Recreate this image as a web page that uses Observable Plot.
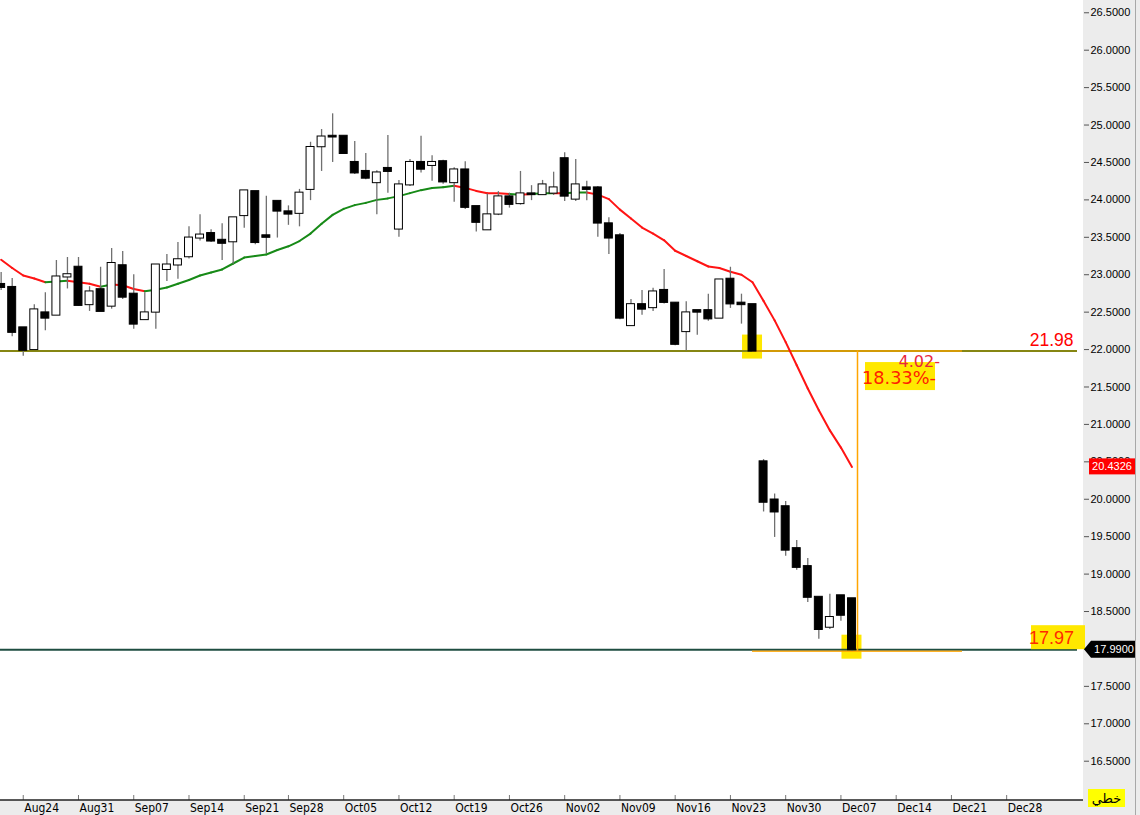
<!DOCTYPE html>
<html>
<head>
<meta charset="utf-8">
<script src="https://cdn.jsdelivr.net/npm/d3@7"></script>
<script src="https://cdn.jsdelivr.net/npm/@observablehq/plot@0.6"></script>
<style>
  html, body { margin: 0; padding: 0; background: #ffffff; }
  #wrap { position: relative; width: 1140px; height: 815px; background: #ececec; overflow: hidden; }
  #white { position: absolute; left: 0; top: 0; width: 1083px; height: 800px; background: #ffffff; }
  #chart { position: absolute; left: 0; top: 0; }
</style>
</head>
<body>
<div id="wrap"><div id="white"></div><div id="chart"></div></div>
<script>
// ---- Data ----
const opens  = [22.87,22.83,22.29,22.00,22.49,22.46,22.97,23.10,22.60,22.80,22.58,23.12,22.74,22.40,22.50,23.07,23.13,23.24,23.49,23.55,
                23.46,23.44,23.79,24.11,23.52,23.98,23.84,23.82,24.14,24.71,24.85,24.85,24.50,24.38,24.23,24.42,23.61,24.20,24.50,24.46,
                24.51,24.23,24.40,23.91,23.60,23.81,24.04,23.95,24.08,24.07,24.09,24.55,24.01,24.16,24.16,23.68,23.52,22.32,22.60,22.56,
                22.79,22.62,22.24,22.52,22.52,22.42,22.94,22.62,22.60,20.50,19.99,19.90,19.34,19.10,18.69,18.29,18.71,18.67];
const highs  = [23.03,22.95,22.29,22.60,22.76,23.19,23.23,23.23,22.84,23.10,23.35,23.31,23.00,22.76,23.13,23.27,23.43,23.64,23.80,23.60,
                23.68,23.76,24.12,24.11,24.05,23.98,23.92,24.14,24.77,24.94,25.15,24.85,24.78,24.62,24.39,24.86,24.26,24.54,24.85,24.59,
                24.53,24.43,24.51,23.91,24.08,24.11,24.09,24.38,24.19,24.26,24.37,24.63,24.54,24.25,24.18,23.76,23.55,22.67,22.79,22.82,
                23.07,22.63,22.64,22.52,22.74,22.93,23.10,22.74,22.60,20.53,20.07,19.97,19.45,19.21,18.69,18.73,18.71,18.67];
const lows   = [22.79,22.17,21.91,22.00,22.25,22.46,22.81,22.58,22.51,22.51,22.54,22.67,22.27,22.40,22.27,22.91,22.94,23.21,23.45,23.43,
                23.19,23.14,23.62,23.40,23.28,23.49,23.66,23.64,23.99,24.38,24.50,24.62,24.34,24.27,23.80,24.09,23.50,24.18,24.36,24.25,
                24.21,23.97,23.87,23.57,23.60,23.79,23.89,23.93,23.99,24.07,24.06,23.98,23.98,23.99,23.50,23.27,22.40,22.32,22.46,22.51,
                22.61,22.05,21.98,22.19,22.38,22.42,22.55,22.34,21.98,19.83,19.49,19.24,19.05,18.62,18.13,18.26,18.37,17.97];
const closes = [22.83,22.23,21.99,22.53,22.42,22.97,23.00,22.59,22.77,22.51,23.15,22.70,22.34,22.49,23.13,23.13,23.20,23.49,23.53,23.45,
                23.42,23.76,24.12,23.43,23.50,23.85,23.81,24.09,24.70,24.84,24.84,24.62,24.36,24.29,24.36,24.38,24.20,24.50,24.41,24.50,
                24.24,24.40,23.90,23.70,23.80,24.04,23.94,24.08,24.07,24.20,24.16,24.05,24.20,24.14,23.69,23.49,22.42,22.60,22.54,22.77,
                22.63,22.07,22.49,22.50,22.41,22.93,22.61,22.60,21.98,19.96,19.83,19.32,19.09,18.69,18.26,18.42,18.45,17.99];
const maValues = [23.20,23.09,22.99,22.95,22.90,22.91,22.92,22.90,22.88,22.84,22.87,22.86,22.81,22.78,22.80,22.83,22.88,22.93,22.99,23.03,
                23.07,23.15,23.23,23.25,23.27,23.33,23.38,23.45,23.55,23.68,23.80,23.88,23.93,23.96,24.00,24.02,24.05,24.09,24.13,24.16,
                24.17,24.19,24.16,24.12,24.09,24.09,24.08,24.07,24.08,24.09,24.09,24.09,24.10,24.10,24.07,24.01,23.87,23.75,23.63,23.55,
                23.46,23.32,23.25,23.18,23.11,23.09,23.04,23.00,22.90,22.65,22.39,22.10,21.79,21.48,21.19,20.92,20.69,20.4326];

const tickLabels = ["Aug24","Aug31","Sep07","Sep14","Sep21","Sep28","Oct05","Oct12","Oct19","Oct26",
                    "Nov02","Nov09","Nov16","Nov23","Nov30","Dec07","Dec14","Dec21","Dec28"];
const tickIndex  = [2,7,12,17,22,26,31,36,41,46,51,56,61,66,71,76,81,86,91];
const yTicks = [16.5,17,17.5,18,18.5,19,19.5,20,20.5,21,21.5,22,22.5,23,23.5,24,24.5,25,25.5,26,26.5];

const levels = [21.98, 17.97];          // support levels (top, bottom)
const levelCandles = [68, 77];          // candles highlighted in yellow
const lastClose = 17.99;
const lastMA = 20.4326;
const measureSpan = [68, 87];           // measuring tool start / end (candle index)
const measureTexts = ["4.02-", "18.33%-"];
const modeLabel = "خطي";

// ---- Build tables ----
const candles = opens.map((o, i) => ({i, o, h: highs[i], l: lows[i], c: closes[i], ma: maValues[i]}));
const maSegs = candles.slice(1).map((d, k) => ({i1: k, i2: d.i, m1: maValues[k], m2: d.ma, up: d.c > d.ma}));
const highlights = levelCandles.map((i, k) => ({i, v: levels[k]}));
const measureMid = (measureSpan[0] + measureSpan[1]) / 2;

const RED = "#ff1414", GREEN = "#178a17";

const plot = Plot.plot({
  width: 1140, height: 815,
  marginLeft: 0, marginRight: 63, marginTop: 0, marginBottom: 15,
  x: {type: "linear", domain: [-0.0588, 97.41], axis: null},
  y: {domain: [15.975, 26.664], axis: null},
  color: {type: "identity"},
  style: {background: "transparent", overflow: "visible", fontFamily: "'Liberation Sans', Arial, sans-serif", color: "#000"},
  marks: [
    // yellow highlight boxes
    Plot.rect(highlights, {x1: "i", x2: "i", y1: "v", y2: "v", fill: "#ffe800",
      insetLeft: -10, insetRight: -10, insetTop: -16, insetBottom: -8}),
    // horizontal level lines
    Plot.ruleY([levels[0]], {stroke: "#868613", strokeWidth: 2}),
    Plot.ruleY([lastClose], {stroke: "#1e4d40", strokeWidth: 2}),
    // measuring tool
    Plot.ruleY(levels, {y: d => d, x1: measureSpan[0], x2: measureSpan[1], stroke: "#ffa500", strokeWidth: 1.5, strokeOpacity: 0.85}),
    Plot.ruleX([measureMid], {x: d => d, y1: levels[1], y2: levels[0], stroke: "#ffa500", strokeWidth: 1.5}),
    // moving average
    Plot.link(maSegs, {x1: "i1", y1: "m1", x2: "i2", y2: "m2", stroke: d => d.up ? GREEN : RED,
      strokeWidth: 2, strokeLinecap: "round"}),
    // candles
    Plot.ruleX(candles, {x: "i", y1: "l", y2: "h", stroke: "#707070", strokeWidth: 1.3}),
    Plot.rect(candles, {x1: d => d.i - 0.36, x2: d => d.i + 0.36, y1: "o", y2: "c",
      fill: d => d.c > d.o ? "#ffffff" : "#000000", stroke: "#000000", strokeWidth: 1,
      insetTop: -0.5, insetBottom: -0.5}),
    // level label
    Plot.text([levels[0]], {y: d => d, text: d => d.toFixed(2), frameAnchor: "right", textAnchor: "end",
      dx: -4, dy: -11, fill: "#ff0000", fontSize: 17.5}),
    // x axis ticks (upward) and labels
    Plot.axisX({ticks: tickIndex, tickSize: 5, dy: -5, tickFormat: () => "", stroke: "#777"}),
    Plot.axisX({ticks: tickIndex, tickSize: 0, tickPadding: 3, textAnchor: "start", dx: 1,
      tickFormat: d => tickLabels[tickIndex.indexOf(d)],
      fontSize: 12, fontFamily: "'Liberation Sans Narrow', 'DejaVu Sans Condensed', sans-serif", fill: "#000"}),
    // y axis on the right
    Plot.axisY({anchor: "right", ticks: yTicks, tickFormat: d => d.toFixed(4), tickSize: 5, tickPadding: 2,
      dx: 6, fontSize: 11, stroke: "#555", fill: "#000"})
  ]
});

document.getElementById("chart").appendChild(plot);

// ---- Overlays positioned through the plot's own scales ----
const sx = plot.scale("x"), sy = plot.scale("y");
const svg = d3.select(plot);
const g = svg.append("g");

// x axis base line
g.append("line").attr("x1", 0).attr("x2", 1083).attr("y1", 800).attr("y2", 800)
  .attr("stroke", "#222").attr("stroke-width", 1.5);
// right border line
g.append("line").attr("x1", 1135.5).attr("x2", 1135.5).attr("y1", 0).attr("y2", 815)
  .attr("stroke", "#a8a8a8").attr("stroke-width", 1);

// measuring labels
const xm = sx.apply(measureMid), yTop = sy.apply(levels[0]);
g.append("rect").attr("x", xm + 8).attr("y", yTop + 11.5).attr("width", 70).attr("height", 28).attr("fill", "#ffe800");
g.append("text").attr("x", xm + 83).attr("y", yTop + 16).attr("text-anchor", "end")
  .attr("font-family", "'DejaVu Sans', sans-serif").attr("font-size", 16).attr("fill", "#e8283c")
  .text(measureTexts[0]);
g.append("text").attr("x", xm + 79).attr("y", yTop + 33).attr("text-anchor", "end")
  .attr("font-family", "'DejaVu Sans', sans-serif").attr("font-size", 17).attr("fill", "#ff2200")
  .attr("textLength", 74).attr("lengthAdjust", "spacingAndGlyphs")
  .text(measureTexts[1]);

// lower level label box
const yLow = sy.apply(levels[1]);
g.append("rect").attr("x", 1031).attr("y", yLow - 25.5).attr("width", 54).attr("height", 24).attr("fill", "#ffe800");
g.append("text").attr("x", 1074).attr("y", yLow - 7).attr("text-anchor", "end")
  .attr("font-family", "'Liberation Sans', Arial, sans-serif").attr("font-size", 18).attr("fill", "#ff2a00")
  .text(levels[1].toFixed(2));

// MA badge on the axis
const yMA = sy.apply(lastMA);
g.append("rect").attr("x", 1089).attr("y", yMA - 8).attr("width", 46).attr("height", 16).attr("fill", "#ff0000");
g.append("text").attr("x", 1112).attr("y", yMA + 4).attr("text-anchor", "middle")
  .attr("font-family", "'Liberation Sans', Arial, sans-serif").attr("font-size", 11).attr("fill", "#fff")
  .text(lastMA.toFixed(4));

// last price badge with arrow
const yLC = sy.apply(lastClose);
g.append("path").attr("d", `M1084,${yLC} L1091,${yLC - 8.5} L1135,${yLC - 8.5} L1135,${yLC + 8.5} L1091,${yLC + 8.5} Z`)
  .attr("fill", "#000");
g.append("text").attr("x", 1114).attr("y", yLC + 4).attr("text-anchor", "middle")
  .attr("font-family", "'Liberation Sans', Arial, sans-serif").attr("font-size", 11).attr("fill", "#fff")
  .text(lastClose.toFixed(4));

// mode label box (bottom right)
g.append("rect").attr("x", 1088).attr("y", 789).attr("width", 37).attr("height", 18).attr("fill", "#ffff00");
g.append("text").attr("x", 1106.5).attr("y", 803).attr("text-anchor", "middle")
  .attr("font-family", "'DejaVu Sans', sans-serif").attr("font-size", 13).attr("fill", "#000")
  .text(modeLabel);
</script>
</body>
</html>
